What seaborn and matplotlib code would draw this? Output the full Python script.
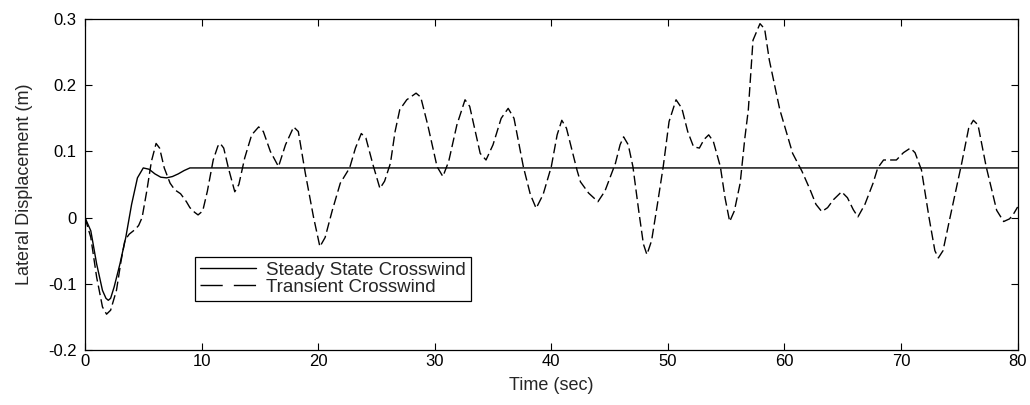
import pandas as pd
import matplotlib
matplotlib.use("Agg")
import matplotlib.pyplot as plt
import seaborn as sns

# -------------------------------
# Data
# -------------------------------
steady_t = [0, 0.5, 1.0, 1.5, 1.8, 2.0, 2.2, 2.5, 3.0, 3.5, 4.0, 4.5, 5.0,
            5.5, 6.0, 6.5, 7.0, 7.5, 8.0, 8.5, 9.0, 9.5, 80.0]
steady_y = [0, -0.02, -0.07, -0.11, -0.122, -0.125, -0.122, -0.105, -0.07,
            -0.03, 0.02, 0.06, 0.075, 0.073, 0.066, 0.061, 0.060, 0.062,
            0.066, 0.071, 0.075, 0.075, 0.075]

transient_t = [0, 0.5, 1.0, 1.5, 1.85, 2.2, 2.7, 3.1, 3.43, 3.8, 4.3, 4.6,
               4.9, 5.3, 5.7, 6.1, 6.4, 6.8, 7.3, 7.7, 8.2, 8.7, 9.0, 9.4,
               9.7, 10.1, 10.5, 11.0, 11.4, 11.6, 11.9, 12.3, 12.85, 13.2,
               13.7, 14.3, 14.9, 15.3, 15.9, 16.6, 17.2, 17.9, 18.3, 18.9,
               19.6, 20.15, 20.6, 21.2, 21.9, 22.7, 23.2, 23.7, 24.1, 24.7,
               25.3, 25.7, 26.2, 26.6, 27.0, 27.6, 28.4, 28.8, 29.4, 30.2,
               30.7, 31.2, 31.9, 32.6, 33.0, 33.9, 34.4, 35.0, 35.7, 36.3,
               36.8, 37.6, 38.2, 38.7, 39.3, 40.0, 40.5, 40.9, 41.3, 41.8,
               42.2, 42.5, 43.2, 44.0, 44.6, 45.5, 45.9, 46.2, 46.6, 47.0,
               47.5, 47.9, 48.2, 48.6, 49.1, 49.6, 50.1, 50.7, 51.2, 51.7,
               52.2, 52.7, 53.1, 53.5, 53.9, 54.5, 54.9, 55.3, 55.7, 56.2,
               56.6, 56.9, 57.3, 57.9, 58.3, 58.7, 59.6, 60.7, 61.5, 62.2,
               62.7, 63.2, 63.7, 64.2, 64.9, 65.4, 65.9, 66.3, 66.9, 67.6,
               68.0, 68.5, 69.6, 70.2, 70.8, 71.2, 71.75, 72.4, 72.9, 73.2,
               73.6, 74.2, 75.2, 75.8, 76.2, 76.6, 77.3, 78.2, 78.8, 79.3,
               79.6, 80.0]
transient_y = [0, -0.03, -0.09, -0.135, -0.146, -0.14, -0.11, -0.065, -0.034,
               -0.025, -0.018, -0.012, 0.0, 0.04, 0.085, 0.112, 0.105, 0.075,
               0.052, 0.042, 0.036, 0.024, 0.015, 0.008, 0.004, 0.01, 0.04,
               0.087, 0.108, 0.112, 0.105, 0.075, 0.039, 0.05, 0.09, 0.125,
               0.137, 0.13, 0.1, 0.077, 0.11, 0.137, 0.13, 0.067, 0.001,
               -0.044, -0.03, 0.01, 0.052, 0.075, 0.105, 0.127, 0.12, 0.08,
               0.044, 0.055, 0.082, 0.13, 0.163, 0.178, 0.188, 0.182, 0.14,
               0.077, 0.062, 0.085, 0.14, 0.178, 0.168, 0.097, 0.087, 0.11,
               0.15, 0.165, 0.15, 0.077, 0.035, 0.014, 0.035, 0.077, 0.125,
               0.147, 0.135, 0.1, 0.072, 0.054, 0.037, 0.024, 0.04, 0.082,
               0.11, 0.122, 0.11, 0.077, 0.01, -0.04, -0.056, -0.035, 0.02,
               0.077, 0.145, 0.178, 0.165, 0.13, 0.107, 0.105, 0.118, 0.125,
               0.115, 0.077, 0.03, -0.006, 0.01, 0.052, 0.12, 0.163, 0.268,
               0.293, 0.285, 0.238, 0.163, 0.097, 0.07, 0.042, 0.02, 0.009,
               0.015, 0.027, 0.039, 0.03, 0.012, 0.001, 0.02, 0.052, 0.075,
               0.087, 0.087, 0.098, 0.105, 0.098, 0.072, 0.0, -0.05, -0.061,
               -0.05, 0.0, 0.082, 0.135, 0.147, 0.14, 0.077, 0.011, -0.006,
               -0.002, 0.004, 0.016]

x_ticks = [0, 10, 20, 30, 40, 50, 60, 70, 80]
y_ticks = [-0.2, -0.1, 0, 0.1, 0.2, 0.3]
y_tick_labels = ["-0.2", "-0.1", "0", "0.1", "0.2", "0.3"]

steady = pd.DataFrame({"t": steady_t, "y": steady_y})
transient = pd.DataFrame({"t": transient_t, "y": transient_y})

# -------------------------------
# Plot
# -------------------------------
sns.set_style("ticks")
plt.rcParams["font.family"] = ["Liberation Sans", "DejaVu Sans"]

fig = plt.figure(figsize=(10.3, 4.05), dpi=100)
ax = fig.add_axes([0.0825, 0.136, 0.9055, 0.817])

sns.lineplot(data=steady, x="t", y="y", ax=ax, color="black", lw=1.0,
             label="Steady State Crosswind", sort=False)
sns.lineplot(data=transient, x="t", y="y", ax=ax, color="black", lw=1.0,
             dashes=False, label="Transient Crosswind", sort=False)
ax.lines[1].set_dashes((7, 3))

ax.set_xlim(0, 80)
ax.set_ylim(-0.2, 0.3)
ax.set_xticks(x_ticks)
ax.set_yticks(y_ticks)
ax.set_yticklabels(y_tick_labels)
ax.tick_params(direction="in", length=5, width=0.8, top=True, right=True,
               labelsize=12, colors="black")
ax.tick_params(axis="x", pad=3)
ax.tick_params(axis="y", pad=6)
for s in ax.spines.values():
    s.set_visible(True)
    s.set_linewidth(0.9)
    s.set_color("black")

ax.set_xlabel("Time (sec)", fontsize=13, labelpad=6)
ax.set_ylabel("Lateral Displacement (m)", fontsize=13, labelpad=11)

leg = ax.legend(loc="upper left", bbox_to_anchor=(0.118, 0.281),
                borderaxespad=0, fontsize=13.5, frameon=True, fancybox=False,
                framealpha=1, edgecolor="black", handlelength=3.0,
                handletextpad=0.55, borderpad=0.25, labelspacing=0.0)
leg.get_frame().set_linewidth(0.9)
for h in leg.get_lines():
    h.set_color("black")
leg.get_lines()[1].set_dashes((16, 8))

fig.savefig("out.png", dpi=100)
